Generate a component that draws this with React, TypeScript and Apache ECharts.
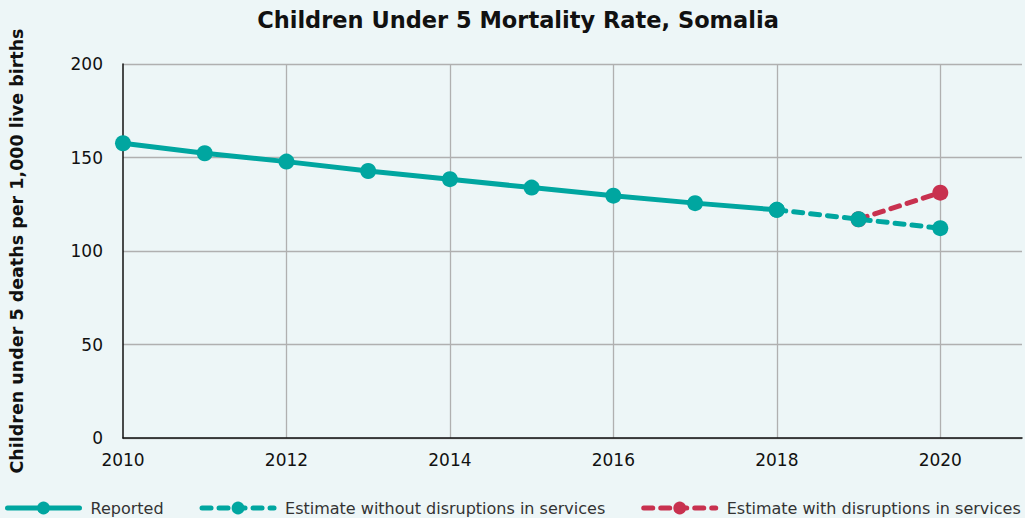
import React, { useEffect, useRef } from "react";
import * as echarts from "echarts";

const years = ["2010","2011","2012","2013","2014","2015","2016","2017","2018","2019","2020","2021"];
const reported = [157.6, 152.3, 147.8, 142.8, 138.4, 133.9, 129.6, 125.6, 122.0, null, null, null];
const estimateWithout = [null, null, null, null, null, null, null, null, 122.0, 117.0, 112.2, null];
const estimateWith = [null, null, null, null, null, null, null, null, null, 117.0, 131.2, null];
const yTicks = [0, 50, 100, 150, 200];

const TEAL = "#00a6a0";
const RED = "#c8314f";
const FONT = "'DejaVu Sans', sans-serif";

export default function App() {
  const ref = useRef<HTMLDivElement>(null);
  useEffect(() => {
    document.body.style.margin = "0";
    if (!ref.current) return;
    const chart = echarts.init(ref.current, undefined, { renderer: "svg" });
    chart.setOption({
      animation: false,
      backgroundColor: "#edf6f7",
      textStyle: { fontFamily: FONT },
      title: {
        text: "Children Under 5 Mortality Rate, Somalia",
        left: 513,
        textAlign: "center",
        top: 3,
        textStyle: { fontFamily: FONT, fontSize: 22.5, fontWeight: "bold", color: "#111" },
      },
      grid: { left: 123, right: 3, top: 64, bottom: 80, containLabel: false, outerBoundsMode: "none" },
      xAxis: {
        type: "category",
        data: years,
        boundaryGap: false,
        axisLine: { show: true, lineStyle: { color: "#111", width: 1.5 } },
        axisTick: { show: false },
        axisLabel: {
          interval: (i: number) => i % 2 === 0 && i < 11,
          color: "#111",
          fontSize: 17,
          fontFamily: FONT,
          margin: 13,
        },
        splitLine: {
          show: true,
          interval: (i: number) => i % 2 === 0 && i > 0 && i < 11,
          lineStyle: { color: "#b0b0b0", width: 1.3 },
        },
      },
      yAxis: {
        type: "value",
        min: yTicks[0],
        max: yTicks[yTicks.length - 1],
        interval: 50,
        name: "Children under 5 deaths per 1,000 live births",
        nameLocation: "middle",
        nameGap: 97,
        nameTextStyle: { fontFamily: FONT, fontSize: 17.5, fontWeight: "bold", color: "#111" },
        axisLine: { show: true, lineStyle: { color: "#111", width: 1.5 } },
        axisTick: { show: false },
        axisLabel: {
          color: "#111",
          fontSize: 17,
          fontFamily: FONT,
          margin: 20,
          verticalAlign: "middle",
          padding: [0, 0, 9, 0],
        },
        splitLine: { show: true, lineStyle: { color: "#b0b0b0", width: 1.3 } },
      },
      legend: {
        bottom: 2,
        left: 5,
        width: 1020,
        padding: 0,
        itemWidth: 72,
        itemHeight: 16,
        itemGap: 36,
        data: ["Reported", "Estimate without disruptions in services", "Estimate with disruptions in services"],
        lineStyle: { width: 5, cap: "round" },
        textStyle: { fontFamily: FONT, fontSize: 16, color: "#333", padding: [0, 0, 0, 6] },
      },
      series: [
        {
          name: "Estimate with disruptions in services",
          type: "line",
          data: estimateWith,
          z: 1,
          symbol: "circle",
          symbolSize: 16,
          itemStyle: { color: RED },
          lineStyle: { color: RED, width: 5, type: [9, 8], cap: "round" },
        },
        {
          name: "Estimate without disruptions in services",
          type: "line",
          data: estimateWithout,
          z: 2,
          symbol: "circle",
          symbolSize: 16,
          itemStyle: { color: TEAL },
          lineStyle: { color: TEAL, width: 5, type: [9, 8], cap: "round" },
        },
        {
          name: "Reported",
          type: "line",
          data: reported,
          z: 3,
          symbol: "circle",
          symbolSize: 16,
          itemStyle: { color: TEAL },
          lineStyle: { color: TEAL, width: 5 },
        },
      ],
    });
    return () => chart.dispose();
  }, []);
  return <div ref={ref} style={{ width: 1025, height: 518 }} />;
}
